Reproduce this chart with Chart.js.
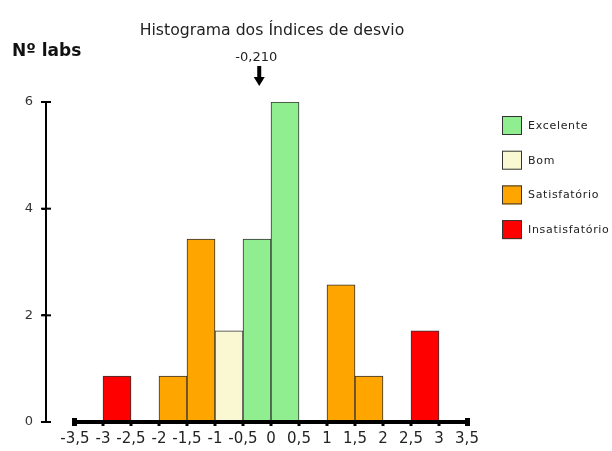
<!DOCTYPE html>
<html><head><meta charset="utf-8">
<script src="https://cdn.jsdelivr.net/npm/chart.js@4"></script>
<style>html,body{margin:0;padding:0;background:#fff}#wrap{width:612px;height:451px}</style>
</head><body><div id="wrap"><canvas id="c" width="612" height="451"></canvas></div>
<script>
const binCenters = [-2.75, -1.75, -1.25, -0.75, -0.25, 0.25, 1.25, 1.75, 2.75];
const labCounts = [0.86, 0.86, 3.43, 1.71, 3.43, 6, 2.57, 0.86, 1.71];
const binClasses = ['Insatisfatório','Satisfatório','Satisfatório','Bom','Excelente','Excelente','Satisfatório','Satisfatório','Insatisfatório'];
const legendLabels = ['Excelente','Bom','Satisfatório','Insatisfatório'];
const legendColors = ['#90EE90','#FAF8D2','#FFA500','#FF0000'];
const xTickValues = [-3.5,-3,-2.5,-2,-1.5,-1,-0.5,0,0.5,1,1.5,2,2.5,3,3.5];
const yTickValues = [0,2,4,6];
const markerValue = -0.21;
const markerLabel = '-0,210';
const titleText = 'Histograma dos Índices de desvio';
const yAxisTitle = 'Nº labs';

const FONT = "'DejaVu Sans', sans-serif";
const barColors = binClasses.map(c => legendColors[legendLabels.indexOf(c)]);

const decor = {
  id: 'decor',
  afterDraw(chart) {
    const ctx = chart.ctx, xs = chart.scales.x, ys = chart.scales.y;
    ctx.save();
    // thick x axis
    const y0 = ys.getPixelForValue(0);
    const xa = xs.getPixelForValue(xTickValues[0]);
    const xb = xs.getPixelForValue(xTickValues[xTickValues.length - 1]);
    ctx.fillStyle = '#000';
    ctx.fillRect(xa, y0 - 2, xb - xa, 4);
    ctx.fillRect(xa - 3, y0 - 4, 5, 8);
    ctx.fillRect(xb - 2, y0 - 4, 5, 8);
    xTickValues.forEach(v => { const p = xs.getPixelForValue(v); ctx.fillRect(p - 1.5, y0 - 1, 3, 5); });
    // y tick crosses
    yTickValues.forEach(v => { const p = ys.getPixelForValue(v); ctx.fillRect(ys.right - 5, p - 1, 10, 2); });
    // title
    ctx.fillStyle = '#222';
    ctx.font = '15.7px ' + FONT;
    ctx.textAlign = 'center'; ctx.textBaseline = 'alphabetic';
    ctx.fillText(titleText, 272, 35);
    // y axis title
    ctx.font = 'bold 17px ' + FONT;
    ctx.textAlign = 'left'; ctx.fillStyle = '#111';
    ctx.fillText(yAxisTitle, 12, 56);
    // marker
    const mx = xs.getPixelForValue(markerValue);
    ctx.font = '13px ' + FONT; ctx.textAlign = 'center'; ctx.fillStyle = '#222';
    ctx.fillText(markerLabel, mx - 3, 61);
    ctx.fillStyle = '#000';
    ctx.fillRect(mx - 2, 66, 4, 12);
    ctx.beginPath(); ctx.moveTo(mx - 5.5, 77); ctx.lineTo(mx + 5.5, 77); ctx.lineTo(mx, 86); ctx.closePath(); ctx.fill();
    // legend
    ctx.font = '11px ' + FONT; ctx.textAlign = 'left'; ctx.textBaseline = 'middle';
    try { ctx.letterSpacing = '0.7px'; } catch (e) {}
    legendLabels.forEach((lab, i) => {
      const by = 116 + i * 34.7;
      ctx.fillStyle = legendColors[i];
      ctx.fillRect(502, by, 20, 19);
      ctx.strokeStyle = '#333'; ctx.lineWidth = 1;
      ctx.strokeRect(502.5, by + 0.5, 19, 18);
      ctx.fillStyle = '#222';
      ctx.fillText(lab, 528, by + 10);
    });
    ctx.restore();
  }
};

new Chart(document.getElementById('c'), {
  type: 'bar',
  data: {
    datasets: [{
      data: binCenters.map((c, i) => ({ x: c, y: labCounts[i] })),
      backgroundColor: barColors,
      borderColor: '#333',
      borderWidth: 1,
      categoryPercentage: 1,
      barPercentage: 1
    }]
  },
  options: {
    responsive: false,
    animation: false,
    devicePixelRatio: 1,
    layout: { padding: { top: 102, right: 145, left: 0, bottom: 0 } },
    plugins: { legend: { display: false }, tooltip: { enabled: false } },
    scales: {
      x: {
        type: 'linear', min: -4.018, max: 3.5, offset: false,
        afterBuildTicks: s => { s.ticks = xTickValues.map(v => ({ value: v })); },
        afterFit: s => { s.height = 29; },
        border: { display: false },
        grid: { drawOnChartArea: false, drawTicks: true, tickLength: 3, color: '#000', lineWidth: 2, offset: false },
        ticks: { autoSkip: false, maxRotation: 0, padding: 5, color: '#222',
                 font: { family: FONT, size: 15 },
                 callback: v => String(v).replace('.', ',') }
      },
      y: {
        min: 0, max: 6,
        afterBuildTicks: s => { s.ticks = yTickValues.map(v => ({ value: v })); },
        afterFit: s => { s.width = 46; },
        border: { display: true, color: '#000', width: 2 },
        grid: { drawOnChartArea: false, tickLength: 4, color: '#000', lineWidth: 2 },
        ticks: { padding: 9, color: '#333', font: { family: FONT, size: 13 } }
      }
    }
  },
  plugins: [decor]
});
</script></body></html>
